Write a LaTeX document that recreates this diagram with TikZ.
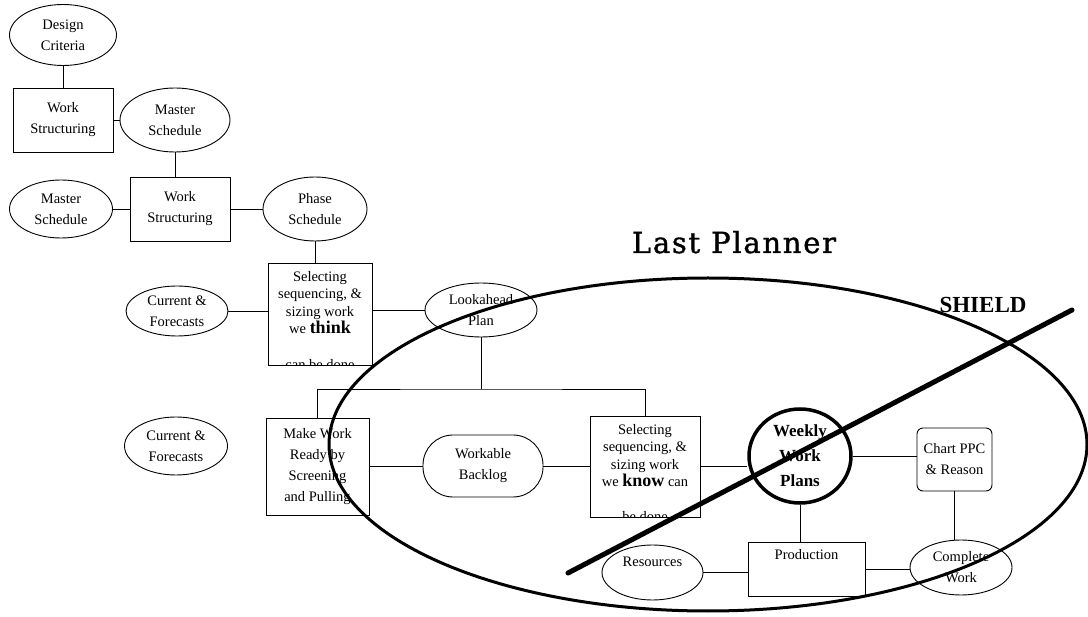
\documentclass[tikz,border=0pt]{standalone}
\usepackage{fontspec}
\setmainfont{Liberation Serif}
\newfontfamily\titlefont[LetterSpace=6,FakeBold=1.2]{DejaVu Serif}
\usetikzlibrary{shapes.geometric}
\newcommand\fsn{\fontsize{14.5}{21}\selectfont}
\newcommand\fss{\fontsize{14.5}{17.5}\selectfont}
\newcommand\bigb[1]{{\fontsize{18}{17.5}\selectfont\bfseries #1}}
\tikzset{
  conn/.style={line width=0.9pt},
  box/.style={draw, line width=0.9pt, rectangle, inner sep=0pt, align=center, font=\fsn},
  oval/.style={draw, line width=0.9pt, ellipse, inner sep=0pt, align=center, font=\fsn},
  txt/.style={inner sep=0pt, align=center, font=\fss},
}
\begin{document}
\begin{tikzpicture}[x=1pt,y=-1pt]
\fill[white] (0,0) rectangle (1088,617);
\useasboundingbox (0,0) rectangle (1088,617);

% upper chain
\node[oval, minimum width=107, minimum height=61] (dc) at (63,35) {Design\\Criteria};
\node[box, minimum width=100, minimum height=64] (ws1) at (63,120) {Work\\Structuring};
\node[oval, minimum width=110, minimum height=64] (ms1) at (175,120) {Master\\Schedule};
\node[box, minimum width=100, minimum height=64] (ws2) at (180,209) {Work\\Structuring};
\node[oval, minimum width=103, minimum height=58] (ms2) at (61,209) {Master\\Schedule};
\node[oval, minimum width=104, minimum height=64] (ps) at (315,209) {Phase\\Schedule};

% lookahead level
\node[box, minimum width=104, minimum height=102] (sel1) at (320,314) {};
\node[txt, anchor=north] (sel1t) at ([yshift=-8.6pt]sel1.north) {Selecting\\sequencing, \&\\sizing work\\we \bigb{think}};
\begin{scope}
  \clip (sel1.south west) rectangle (sel1.north east);
  \node[txt, anchor=base] (sel1b) at ([yshift=-4pt]sel1.south) {can be done};
\end{scope}
\node[oval, minimum width=102, minimum height=50] (cf1) at (177,311) {Current \&\\Forecasts};
\node[oval, minimum width=112, minimum height=54] (lp) at (481,310) {Lookahead\\Plan};

% make ready level
\node[oval, minimum width=103, minimum height=58] (cf2) at (176,446) {Current \&\\Forecasts};
\node[box, minimum width=103, minimum height=97] (mw) at (317.5,466.5) {Make Work\\Ready by\\Screening\\and Pulling};
\node[box, rounded corners=30pt, minimum width=120, minimum height=62] (wb) at (483,466) {Workable\\Backlog};
\node[box, minimum width=110, minimum height=101] (sel2) at (645,466.5) {};
\node[txt, anchor=north] (sel2t) at ([yshift=-8.6pt]sel2.north) {Selecting\\sequencing, \&\\sizing work\\we \bigb{know} can};
\begin{scope}
  \clip (sel2.south west) rectangle (sel2.north east);
  \node[txt, anchor=base] (sel2b) at ([yshift=-4pt]sel2.south) {be done};
\end{scope}

% weekly level
\node[draw, ellipse, line width=3.5pt, inner sep=0pt, minimum width=102, minimum height=94, align=center,
      font=\fontsize{17}{25}\selectfont\bfseries] (wwp) at (800,456) {Weekly\\Work\\Plans};
\node[box, rounded corners=6pt, minimum width=75, minimum height=63] (chart) at (954.5,459.5) {Chart PPC\\\& Reason};
\node[oval, minimum width=102, minimum height=55] (cw) at (961,567.5) {Complete\\Work};
\node[box, minimum width=117, minimum height=54] (prod) at (806.5,569) {};
\node[txt, anchor=north] (prodt) at ([yshift=-8pt]prod.north) {Production};
\node[oval, minimum width=101, minimum height=55] (res) at (652.5,572.5) {};
\node[txt, anchor=base] (rest) at ([yshift=5.5pt]res.center) {Resources};

% connectors
\draw[conn] (dc.south) -- (ws1.north);
\draw[conn] (ws1.east) -- (ms1.west);
\draw[conn] (ms1.south) -- (ms1.south |- ws2.north);
\draw[conn] (ms2.east) -- (ws2.west);
\draw[conn] (ws2.east) -- (ps.west);
\draw[conn] (ps.south) -- (ps.south |- sel1.north);
\draw[conn] (cf1.east) -- (cf1.east -| sel1.west);
\draw[conn] (lp.west -| sel1.east) -- (lp.west);
\coordinate (j) at (481,389);
\draw[conn] (lp.south) -- (j);
\draw[conn] (mw.north) |- (j) -| (sel2.north);
\draw[conn] (mw.east |- wb.west) -- (wb.west);
\draw[conn] (wb.east) -- (wb.east -| sel2.west);
\draw[conn] (sel2.east) -- (wwp.west |- sel2.east);
\draw[conn] (wwp.east) -- (wwp.east -| chart.west);
\draw[conn] (chart.south) -- (chart.south |- cw.north);
\draw[conn] (wwp.south) -- (wwp.south |- prod.north);
\draw[conn] (prod.east) -- (prod.east -| cw.west);
\draw[conn] (res.east) -- (res.east -| prod.west);

% Last Planner ellipse and shield
\node[draw, ellipse, line width=3pt, inner sep=0pt, minimum width=758, minimum height=333] (lastp) at (708,444.5) {};
\coordinate (sh1) at (568,573);
\coordinate (sh2) at (1072,310);
\draw[line width=5pt, line cap=round] (sh1) -- (sh2);

\node[inner sep=0pt, anchor=base, font=\titlefont\fontsize{29}{30}\selectfont] (lptitle) at (734,253) {Last Planner};
\node[inner sep=0pt, anchor=base, font=\fontsize{23}{24}\selectfont\bfseries] (shield) at (983,313) {SHIELD};
\end{tikzpicture}
\end{document}
